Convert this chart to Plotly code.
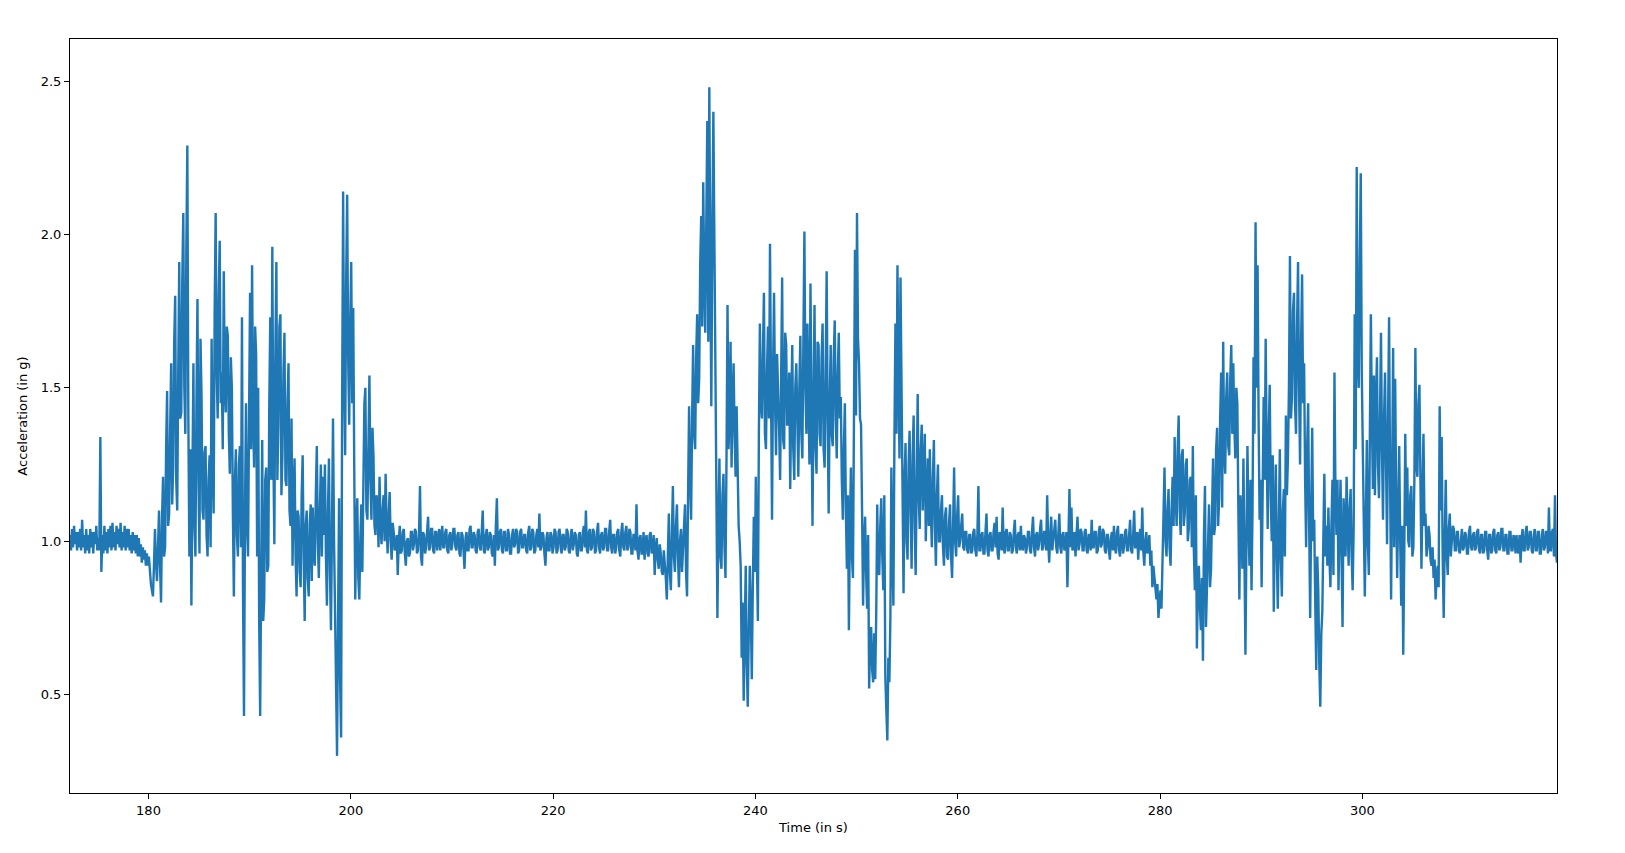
import plotly.graph_objects as go

# sampling of the accelerometer trace (seconds)
t_start = 172.24
dt = 0.1

# acceleration magnitude (g), 10 samples per second
rest_1 = [
    1.02, 0.97, 1.04, 0.98, 1.05, 0.99, 1.03, 0.97, 1.03, 0.98,
    1.04, 0.97, 1.07, 0.98, 1.02, 0.96, 1.04, 0.97, 1.02, 0.96,
    1.04, 0.98, 1.03, 0.96, 1.03, 0.99, 1.05, 0.97, 1.01, 0.97,
    1.34, 0.90, 1.02, 0.96, 1.05, 0.97, 1.03, 0.96, 1.04, 0.98,
    1.05, 0.97, 1.06, 0.98, 1.03, 0.97, 1.05, 0.99, 1.04, 0.98,
    1.06, 0.97, 1.03, 0.98, 1.05, 0.97, 1.04, 0.98, 1.04, 0.97,
    1.02, 0.96, 1.03, 0.97, 1.02, 0.96, 1.02, 0.95, 1.01, 0.95,
    0.99, 0.93, 0.98, 0.94, 0.97, 0.92, 0.96, 0.92, 0.95, 0.90,
]
walk_1 = [
    0.86, 0.84, 0.82, 0.92, 1.04, 0.93, 0.87, 0.98, 1.10, 0.92,
    0.80, 1.08, 1.21, 0.95, 0.98, 1.30, 1.49, 1.05, 1.09, 1.36,
    1.58, 1.12, 1.24, 1.65, 1.80, 1.20, 1.10, 1.55, 1.91, 1.40,
    1.42, 1.85, 2.07, 1.50, 1.35, 1.95, 2.29, 1.40, 0.95, 1.30,
    0.79, 1.20, 1.58, 1.05, 0.95, 1.45, 1.79, 1.20, 0.96, 1.66,
    1.48, 1.10, 1.07, 1.29, 1.31, 1.02, 0.95, 1.20, 1.28, 0.98,
    1.66, 1.25, 1.09, 1.75, 2.07, 1.55, 1.40, 1.80, 1.98, 1.45,
    1.55, 1.30, 1.88, 1.50, 1.42, 1.70, 1.67, 1.35, 1.22, 1.60,
    1.50, 1.10, 0.82, 1.20, 1.30, 1.02, 0.95, 1.25, 1.31, 0.98,
    1.73, 0.85, 0.43, 1.10, 1.45, 1.05, 0.95, 1.40, 1.81, 1.30,
    1.90, 1.40, 1.24, 1.70, 1.61, 0.95, 1.50, 0.75, 0.43, 0.90,
    1.33, 0.74, 0.81, 1.20, 1.24, 0.90, 0.92, 1.45, 1.73, 1.20,
    1.96, 1.30, 0.99, 1.60, 1.91, 1.20, 1.38, 1.70, 1.74, 1.15,
    1.28, 1.55, 1.68, 1.20, 1.18, 1.45, 1.58, 1.10, 1.05, 1.40,
    0.92, 1.15, 1.27, 0.95, 0.82, 1.10, 1.08, 0.90, 0.85, 1.15,
    1.28, 0.95, 0.74, 1.05, 1.10, 0.88, 0.82, 1.06, 1.12, 0.87,
    1.11, 0.96, 0.92, 1.15, 1.31, 1.00, 0.88, 1.10, 1.25, 0.95,
    1.21, 1.02, 1.25, 0.95, 0.79, 1.10, 1.27, 0.90, 0.71, 1.05,
    1.40, 1.01, 0.70, 0.48, 0.30, 0.75, 1.14, 0.55, 0.36, 1.43,
    2.14, 1.53, 1.28, 1.85, 2.13, 1.60, 1.38, 1.70, 1.91, 1.45,
    1.76, 1.24, 0.81, 1.05, 1.14, 0.88, 0.81, 1.00, 1.12, 0.90,
    1.28, 1.45, 1.50, 1.10, 1.07, 1.40, 1.54, 1.20, 1.07, 1.37,
    1.28, 1.05, 1.02, 1.15, 1.12, 0.98, 1.21, 1.05, 0.99, 1.10,
    1.15, 1.00, 1.22, 1.05, 0.96, 1.08, 1.16, 1.00, 0.94, 1.06,
]
rest_2 = [
    1.03, 0.97, 0.98, 1.02, 0.89, 1.00, 1.05, 0.96, 0.97, 1.03,
    1.04, 0.96, 0.92, 1.00, 1.01, 0.95, 0.96, 1.03, 1.03, 0.97,
    0.99, 1.04, 1.03, 0.96, 0.97, 1.02, 1.18, 0.95, 0.92, 1.03,
    1.02, 0.96, 0.98, 1.03, 1.08, 0.97, 0.98, 1.04, 1.04, 0.97,
    0.96, 1.03, 1.03, 0.97, 1.00, 1.04, 0.97, 1.02, 1.05, 0.98,
    0.98, 1.03, 1.04, 0.97, 0.96, 1.02, 1.03, 0.97, 0.99, 1.04,
    1.04, 0.98, 0.97, 1.02, 1.03, 0.96, 0.95, 1.03, 1.02, 0.97,
    0.91, 1.01, 1.03, 0.97, 0.97, 1.04, 1.05, 0.98, 0.98, 1.03,
    1.02, 0.97, 0.96, 1.03, 1.04, 0.98, 0.97, 1.03, 1.10, 0.97,
    0.96, 1.02, 1.04, 0.97, 0.98, 1.03, 1.02, 0.96, 0.95, 1.02,
    0.92, 1.05, 1.14, 0.97, 0.98, 1.03, 1.04, 0.97, 0.96, 1.03,
    1.03, 0.97, 0.97, 1.04, 1.02, 0.96, 0.96, 1.02, 1.04, 0.98,
    0.99, 1.04, 1.03, 0.96, 0.97, 1.03, 1.04, 0.98, 0.98, 1.02,
    1.02, 0.97, 0.96, 1.03, 1.05, 0.97, 0.98, 1.04, 1.03, 0.96,
    0.97, 1.02, 1.04, 0.98, 1.09, 0.97, 0.98, 1.03, 1.02, 0.96,
    0.92, 1.01, 1.03, 0.97, 0.97, 1.03, 1.02, 0.96, 0.98, 1.04,
    1.03, 0.96, 0.97, 1.03, 1.04, 0.98, 0.96, 1.02, 1.02, 0.97,
    0.98, 1.04, 1.03, 0.97, 0.96, 1.02, 1.04, 0.97, 0.99, 1.03,
    1.02, 0.96, 0.95, 1.02, 1.03, 0.97, 0.97, 1.03, 1.05, 0.98,
    1.10, 0.97, 0.96, 1.03, 1.04, 0.97, 0.98, 1.04, 1.03, 0.96,
    0.97, 1.03, 1.06, 0.98, 0.96, 1.02, 1.03, 0.97, 0.98, 1.04,
    1.04, 0.97, 0.97, 1.03, 1.07, 0.98, 0.96, 1.02, 1.02, 0.96,
    0.98, 1.03, 1.04, 0.97, 0.95, 1.03, 1.06, 0.98, 0.97, 1.03,
    1.05, 0.97, 0.98, 1.04, 1.03, 0.96, 0.96, 1.02, 1.02, 0.97,
    1.12, 0.97, 0.94, 1.01, 1.02, 0.96, 0.96, 1.03, 0.94, 1.00,
    1.02, 0.96, 0.95, 1.02, 1.03, 0.96, 0.97, 1.02, 0.89, 0.98,
    1.01, 0.94, 0.91, 0.99, 0.96, 0.90, 0.89, 0.97, 0.93, 0.88,
]
walk_2 = [
    0.81, 0.96, 1.09, 0.90, 0.84, 1.02, 1.18, 0.95, 0.90, 1.05,
    1.12, 0.95, 0.85, 1.00, 1.04, 0.90, 0.96, 1.05, 1.12, 0.90,
    0.82, 1.15, 1.44, 1.20, 1.07, 1.40, 1.64, 1.35, 1.30, 1.60,
    1.74, 1.45, 1.53, 1.90, 2.06, 1.70, 2.17, 1.85, 1.68, 2.03,
    2.37, 1.65, 2.48, 1.90, 1.44, 2.00, 2.40, 1.99, 1.58, 0.89,
    0.75, 1.05, 1.27, 0.95, 0.91, 1.15, 1.22, 0.98, 0.88, 1.27,
    1.77, 1.30, 1.41, 1.65, 1.24, 1.45, 1.58, 1.35, 1.21, 1.44,
    1.24, 1.05, 1.00, 0.92, 0.62, 0.80, 0.48, 0.70, 0.92, 0.60,
    0.46, 0.70, 0.92, 0.78, 0.55, 0.85, 1.08, 0.90, 1.21, 0.95,
    0.74, 1.35, 1.71, 1.45, 1.40, 1.61, 1.81, 1.35, 1.30, 1.55,
    1.70, 1.40, 1.97, 1.50, 1.07, 1.55, 1.81, 1.45, 1.28, 1.61,
    1.50, 1.37, 1.20, 1.60, 1.86, 1.33, 1.30, 1.68, 1.64, 1.38,
    1.38, 1.55, 1.17, 1.45, 1.64, 1.30, 1.20, 1.50, 1.58, 1.41,
    1.21, 1.50, 1.67, 1.35, 1.27, 1.65, 2.01, 1.50, 1.35, 1.71,
    1.45, 1.25, 1.84, 1.40, 1.05, 1.45, 1.77, 1.31, 1.22, 1.65,
    1.64, 1.35, 1.31, 1.60, 1.71, 1.30, 1.24, 1.55, 1.88, 1.40,
    1.09, 1.45, 1.64, 1.35, 1.31, 1.60, 1.72, 1.40, 1.27, 1.55,
    1.68, 1.40, 1.47, 1.20, 1.07, 1.30, 1.45, 1.10, 0.91, 1.15,
    0.71, 1.05, 1.24, 0.95, 0.88, 1.40, 1.95, 1.41, 2.07, 1.66,
    1.58, 1.40, 1.38, 1.10, 0.79, 1.00, 1.08, 0.90, 0.78, 1.02,
    0.52, 0.68, 0.72, 0.58, 0.54, 0.70, 0.55, 0.76, 1.12, 0.90,
    0.89, 1.05, 1.14, 0.95, 0.84, 1.15, 0.56, 0.45, 0.35, 0.62,
    0.54, 0.75, 1.24, 0.95, 0.79, 1.34, 1.71, 1.35, 1.90, 1.55,
    1.27, 1.86, 1.51, 1.10, 0.83, 1.20, 1.32, 1.00, 0.94, 1.25,
    1.36, 1.10, 0.91, 1.28, 1.41, 1.05, 0.89, 1.20, 1.48, 1.15,
    1.04, 1.30, 1.38, 1.10, 1.21, 1.35, 1.00, 1.15, 1.27, 1.05,
    1.30, 1.10, 0.98, 1.20, 1.33, 1.05, 0.92, 1.15, 1.25, 1.00,
    1.00, 1.10, 1.15, 0.98, 0.92, 1.08, 1.11, 0.95, 0.94, 1.06,
    1.12, 0.95, 0.88, 1.05, 1.24, 1.00, 0.95, 1.08, 1.15, 0.98,
]
rest_3 = [
    1.00, 1.05, 1.09, 0.98, 0.97, 1.03, 1.03, 0.97, 0.96, 1.02,
    1.02, 0.96, 0.97, 1.03, 1.04, 0.97, 0.95, 1.02, 1.18, 0.97,
    0.97, 1.02, 1.03, 0.96, 0.96, 1.03, 1.09, 0.97, 0.95, 1.02,
    1.03, 0.97, 0.97, 1.03, 1.06, 0.98, 1.08, 0.96, 0.94, 1.03,
    1.02, 0.97, 1.11, 0.98, 0.96, 1.03, 1.04, 0.97, 0.97, 1.03,
    1.02, 0.96, 0.97, 1.03, 1.07, 0.98, 0.96, 1.02, 1.03, 0.97,
    1.05, 0.98, 0.97, 1.02, 1.01, 0.96, 0.98, 1.03, 1.03, 0.97,
    0.96, 1.03, 1.08, 0.98, 0.95, 1.02, 1.03, 0.97, 0.99, 1.04,
    1.07, 0.97, 0.98, 1.03, 1.03, 0.97, 1.15, 1.00, 0.93, 1.02,
    1.08, 0.97, 1.00, 1.04, 1.07, 0.98, 0.96, 1.02, 1.09, 0.98,
    0.96, 1.02, 1.03, 0.97, 0.98, 1.03, 0.85, 1.00, 1.17, 0.98,
    1.11, 0.97, 0.98, 1.03, 0.95, 1.02, 1.08, 0.97, 0.99, 1.04,
    1.03, 0.97, 0.97, 1.03, 1.04, 0.97, 0.96, 1.02, 1.02, 0.97,
    1.07, 0.98, 0.98, 1.03, 1.03, 0.96, 0.97, 1.03, 1.05, 0.98,
    0.99, 1.04, 1.03, 0.97, 0.96, 1.02, 1.02, 0.97, 0.94, 1.01,
    1.03, 0.97, 1.05, 0.98, 0.96, 1.03, 1.05, 0.97, 0.95, 1.02,
    1.02, 0.96, 0.98, 1.03, 1.04, 0.97, 0.97, 1.02, 1.07, 0.97,
    0.96, 1.02, 1.10, 0.98, 0.98, 1.03, 0.94, 1.01, 1.04, 0.97,
    1.11, 0.97, 0.92, 1.00, 1.03, 0.96, 0.98, 1.02, 0.92, 0.97,
]
walk_3 = [
    0.85, 0.92, 0.88, 0.83, 0.81, 0.86, 0.75, 0.80, 0.84, 0.78,
    0.92, 1.05, 1.24, 1.00, 0.95, 1.10, 1.17, 0.98, 0.92, 1.10,
    1.21, 1.05, 1.34, 1.15, 1.05, 1.30, 1.41, 1.10, 1.02, 1.28,
    1.30, 1.05, 1.09, 1.25, 1.27, 1.00, 1.04, 1.20, 1.21, 0.98,
    1.31, 0.97, 0.84, 1.15, 0.65, 0.85, 0.92, 0.78, 0.71, 0.88,
    0.61, 1.02, 1.18, 0.72, 0.84, 1.00, 1.12, 0.85, 0.91, 1.10,
    1.27, 1.02, 1.05, 1.30, 1.37, 1.05, 1.14, 1.40, 1.55, 1.11,
    1.65, 1.30, 1.22, 1.47, 1.55, 1.31, 1.28, 1.53, 1.64, 1.35,
    1.58, 1.38, 1.27, 1.50, 1.45, 1.10, 0.81, 1.15, 1.08, 0.91,
    1.27, 0.95, 0.63, 1.00, 1.31, 1.05, 0.92, 1.20, 0.84, 1.10,
    1.60, 1.35, 2.04, 1.50, 1.90, 1.40, 1.07, 1.20, 0.85, 1.15,
    1.47, 1.20, 1.66, 1.30, 1.04, 1.35, 1.51, 1.15, 1.00, 1.28,
    0.77, 1.05, 1.25, 0.95, 0.78, 1.05, 1.30, 0.94, 0.82, 1.10,
    1.17, 0.95, 1.41, 1.15, 1.27, 1.50, 1.93, 1.40, 1.47, 1.75,
    1.81, 1.45, 1.35, 1.70, 1.91, 1.50, 1.25, 1.64, 1.87, 1.45,
    1.58, 1.20, 0.98, 1.30, 1.45, 1.05, 0.75, 1.10, 1.37, 1.00,
    1.07, 0.80, 0.58, 0.95, 0.84, 0.60, 0.46, 0.70, 0.77, 1.01,
    1.22, 0.95, 1.05, 0.92, 1.11, 0.95, 0.85, 1.05, 1.20, 0.89,
    1.55, 1.15, 1.02, 1.20, 0.84, 1.05, 1.20, 0.95, 0.72, 1.14,
    1.07, 0.95, 1.21, 1.00, 0.92, 1.10, 1.17, 0.95, 0.84, 1.05,
    1.74, 1.30, 2.22, 1.60, 1.50, 1.90, 2.20, 1.55, 1.28, 1.07,
    0.82, 1.05, 1.33, 1.00, 0.89, 1.35, 1.74, 1.40, 1.17, 1.54,
    1.15, 1.45, 1.60, 1.25, 1.14, 1.40, 1.68, 1.30, 1.07, 1.40,
    1.55, 1.25, 0.99, 1.40, 1.73, 1.20, 0.81, 1.20, 1.63, 0.98,
    1.53, 1.15, 0.88, 1.10, 1.31, 1.00, 0.79, 1.05, 0.63, 0.95,
    1.35, 1.05, 1.24, 1.00, 0.98, 1.15, 1.18, 0.95, 0.98, 1.20,
    1.63, 1.25, 1.21, 1.45, 1.51, 1.20, 0.91, 1.15, 1.35, 1.05,
    1.09, 0.95, 0.98, 1.05, 1.02, 0.94, 0.92, 0.98, 0.88, 0.94,
    0.81, 0.88, 0.92, 0.85, 1.44, 1.10, 1.34, 0.95, 0.75, 1.00,
    1.20, 0.95, 0.89, 1.04, 1.09, 0.95, 0.99, 1.05, 1.04, 0.97,
]
rest_4 = [
    0.97, 1.03, 1.03, 0.97, 0.96, 1.02, 1.04, 0.97, 0.98, 1.03,
    1.02, 0.96, 0.96, 1.03, 1.05, 0.98, 0.97, 1.02, 1.03, 0.97,
    0.98, 1.03, 1.04, 0.97, 0.96, 1.02, 1.02, 0.96, 0.97, 1.03,
    1.03, 0.97, 0.94, 1.02, 1.02, 0.96, 0.97, 1.03, 1.04, 0.97,
    0.96, 1.02, 1.03, 0.97, 0.98, 1.04, 1.04, 0.97, 0.97, 1.02,
    1.02, 0.96, 0.96, 1.03, 1.03, 0.97, 0.97, 1.02, 1.01, 0.96,
    1.02, 0.97, 0.96, 1.02, 0.93, 1.01, 1.04, 0.97, 0.97, 1.03,
    1.05, 0.97, 0.98, 1.03, 1.03, 0.97, 0.96, 1.02, 1.04, 0.97,
    0.97, 1.03, 1.03, 0.96, 0.96, 1.02, 1.04, 0.97, 0.98, 1.03,
    1.03, 0.96, 1.11, 0.97, 0.97, 1.03, 1.04, 0.95, 1.15, 0.96,
    0.93,
]

x_ticks = [180, 200, 220, 240, 260, 280, 300]
y_ticks = [0.5, 1.0, 1.5, 2.0, 2.5]
x_title = "Time (in s)"
y_title = "Acceleration (in g)"

acc = rest_1 + walk_1 + rest_2 + walk_2 + rest_3 + walk_3 + rest_4
time = [t_start + i * dt for i in range(len(acc))]

fig = go.Figure()
fig.add_trace(go.Scatter(
    x=time, y=acc, mode="lines",
    line=dict(color="#1f77b4", width=2.4),
    showlegend=False,
))

font = dict(family="DejaVu Sans", size=13, color="black")
axis_common = dict(
    showgrid=False, zeroline=False,
    showline=True, linecolor="black", linewidth=1.1, mirror=True,
    ticks="outside", ticklen=5, tickwidth=1.1, tickcolor="black",
    tickfont=font,
)
fig.update_layout(
    width=1609, height=837,
    paper_bgcolor="white", plot_bgcolor="white",
    margin=dict(l=62, r=60, t=31, b=52),
    font=font,
    xaxis=dict(range=[172.24, 319.24], tickvals=x_ticks,
               ticktext=[str(v) for v in x_ticks],
               title=dict(text=x_title, font=font, standoff=6),
               automargin=False, **axis_common),
    yaxis=dict(range=[0.179, 2.6375], tickvals=y_ticks,
               ticktext=[f"{v:.1f}" for v in y_ticks],
               title=dict(text=y_title, font=font, standoff=10),
               automargin=False, **axis_common),
)
fig.write_html("out.html")
